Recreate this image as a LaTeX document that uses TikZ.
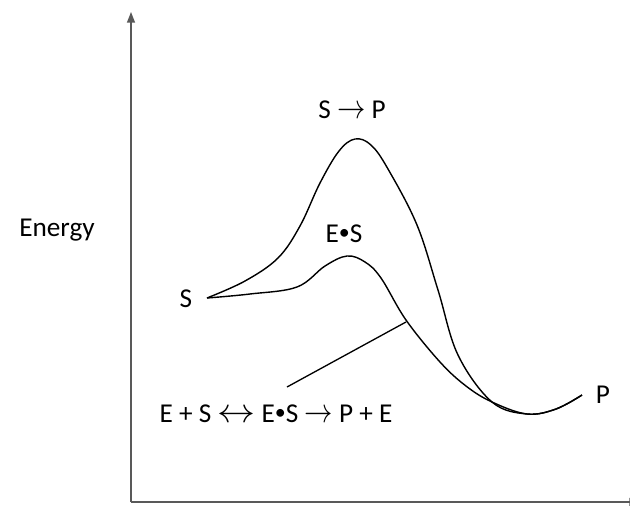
\documentclass[tikz,border=0pt]{standalone}
\usepackage{fontspec}
\usepackage{graphicx}
\setmainfont{Carlito}
\usetikzlibrary{arrows.meta}
\newcommand{\rarr}{\scalebox{1.12}[1.35]{$\rightarrow$}}
\newcommand{\lrarr}{\scalebox{1.5}[1.35]{$\leftrightarrow$}}
\newcommand{\bul}{\raisebox{1.2pt}{\fontsize{12.5}{12.5}\selectfont•}}
\begin{document}
\begin{tikzpicture}[
      x=0.02cm, y=-0.02cm,
      lbl/.style={inner sep=0pt, anchor=base, font=\fontsize{15.5}{18}\selectfont},
      axis/.style={draw=black!65, line width=0.75pt, -{Triangle[length=6pt, width=4.5pt]}},
      curve/.style={line width=0.8pt, smooth, tension=0.6}
  ]
  \clip (0,0) rectangle (630,505);

  % Axes
  \coordinate (origin) at (131,502);
  \coordinate (ytop) at (131,12);
  \coordinate (xend) at (640,502);
  \draw[axis] (origin) -- (ytop);
  \draw[axis] (origin) -- (xend);

  % Labels
  \node[lbl] (energy) at (57,236) {Energy};
  \node[lbl] (sp) at (352,118) {S \rarr\ P};
  \node[lbl] (es) at (344,242) {E\bul S};
  \node[lbl] (s) at (186,307) {S};
  \node[lbl] (p) at (603,403) {P};
  \node[lbl] (rxn) at (276,422) {E + S \lrarr\ E\bul S \rarr\ P + E};

  % Curves
  \draw[curve] plot coordinates {(207,298) (245,281) (278,258) (300,226)
    (320,183) (339,151) (355,139) (371,145) (388,169) (417,225) (438,290)
    (458,355) (492,402) (527,414) (556,409) (582,395)};
  \draw[curve] plot coordinates {(207,298) (250,294) (297,287) (325,266)
    (347,256) (365,262) (381,278) (406,320) (440,362) (466,386)
    (492,402) (527,414) (556,409) (582,395)};

  % Pointer
  \coordinate (tip) at (406,322);
  \coordinate (tail) at (287,387);
  \draw[line width=0.75pt] (tail) -- (tip);

  \end{tikzpicture}
\end{document}
